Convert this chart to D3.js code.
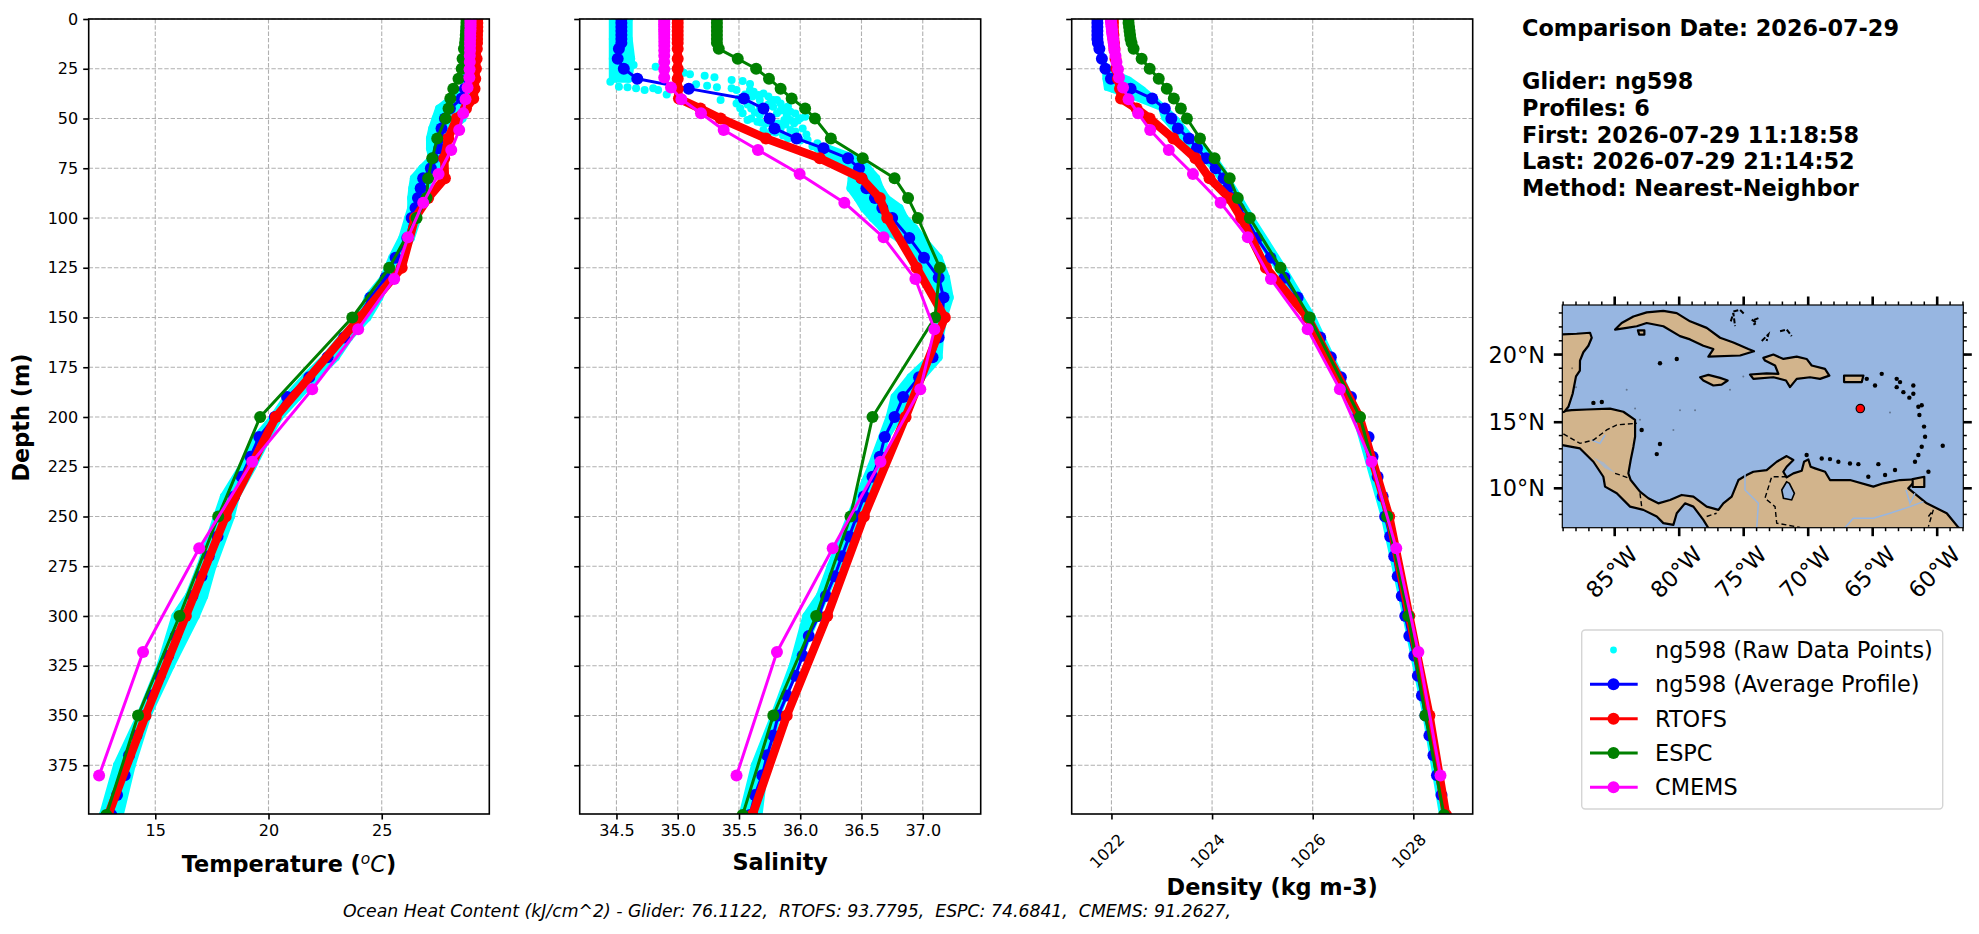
<!DOCTYPE html>
<html>
<head>
<meta charset="utf-8">
<title>Glider comparison</title>
<script src="https://cdn.jsdelivr.net/npm/d3@7"></script>
<style>
    html, body { margin: 0; padding: 0; background: #fff; }
    svg { display: block; font-family: "DejaVu Sans", sans-serif; }
</style>
</head>
<body>
<div id="chart"></div>
<script>
// depth levels
const modelDepth = [0,2,4,6,8,10,12,15,20,25,30,35,40,45,50,60,70,80,90,100,125,150,200,250,300,350,400];
const gliderDepth = [0,2,4,6,8,10,12,15,20,25,30,35,40,45,50,55,60,65,70,75,80,85,90,95,100,110,120,130,140,150,160,170,180,190,200,210,220,230,240,250,260,270,280,290,300,310,320,330,340,350,360,370,380,390,400];
const cmemsDepth = [0.5,1.5,2.6,3.8,5.1,6.4,7.9,9.6,11.4,13.5,15.8,18.5,21.6,25.2,29.4,34.4,40.3,47.4,55.8,65.8,77.9,92.3,109.7,130.7,155.9,186.1,222.5,266,318.1,380.2];

// temperature
const gliderTemp = [28.9,28.9,28.9,28.9,28.9,28.9,28.89,28.88,28.87,28.85,28.82,28.67,28.53,28.01,27.79,27.64,27.54,27.54,27.27,27.17,26.83,26.72,26.6,26.49,26.32,26.13,25.61,25.17,24.51,23.96,23.34,22.61,21.8,20.82,20.28,19.59,19.2,18.81,18.48,18.07,17.75,17.36,17.04,16.64,16.3,15.9,15.57,15.2,14.83,14.54,14.17,13.84,13.65,13.31,13.06];
const rtofsTemp = [29.22,29.22,29.22,29.22,29.21,29.21,29.21,29.2,29.19,29.16,29.13,29.1,29.04,28.72,28.31,27.94,27.76,27.79,27.05,26.47,25.88,24.04,20.32,18.11,16.35,14.57,12.92];
const espcTemp = [28.74,28.74,28.73,28.72,28.71,28.7,28.68,28.63,28.57,28.53,28.39,28.16,28.03,27.95,27.82,27.45,27.23,27.05,26.98,26.54,25.33,23.7,19.63,17.78,16.07,14.24,12.84];
const cmemsTemp = [28.92,28.92,28.92,28.92,28.92,28.91,28.91,28.91,28.9,28.9,28.9,28.89,28.89,28.88,28.87,28.79,28.7,28.6,28.42,28.07,27.51,26.83,26.16,25.55,23.96,21.93,19.28,16.94,14.46,12.52];

// salinity
const gliderSal = [34.54,34.54,34.54,34.54,34.54,34.54,34.54,34.52,34.51,34.56,34.67,35.09,35.54,35.7,35.75,35.79,35.97,36.19,36.39,36.48,36.5,36.54,36.61,36.67,36.75,36.89,37.01,37.13,37.17,37.16,37.13,37.08,36.97,36.84,36.77,36.69,36.65,36.59,36.52,36.46,36.4,36.34,36.28,36.21,36.15,36.07,36.02,35.96,35.89,35.82,35.78,35.73,35.69,35.63,35.59];
const rtofsSal = [35,35,35,35,35,35,35,35,35,35,35,35,35.01,35.185,35.35,35.72,36.16,36.5,36.65,36.71,36.95,37.18,36.86,36.52,36.22,35.89,35.61];
const espcSal = [35.32,35.32,35.32,35.32,35.32,35.32,35.32,35.335,35.49,35.64,35.745,35.84,35.93,36.04,36.12,36.25,36.51,36.77,36.88,36.96,37.14,37.1,36.59,36.41,36.13,35.78,35.53];
const cmemsSal = [34.89,34.89,34.89,34.89,34.89,34.89,34.89,34.89,34.89,34.89,34.89,34.89,34.89,34.89,34.89,34.945,35.03,35.19,35.375,35.655,35.995,36.36,36.68,36.94,37.095,36.98,36.655,36.265,35.81,35.48];

// density
const gliderDens = [1021.72,1021.72,1021.72,1021.72,1021.72,1021.72,1021.73,1021.76,1021.81,1021.88,1021.99,1022.38,1022.81,1023.06,1023.19,1023.32,1023.54,1023.7,1023.88,1024.07,1024.23,1024.31,1024.42,1024.53,1024.68,1024.89,1025.16,1025.44,1025.7,1025.9,1026.15,1026.36,1026.56,1026.76,1026.89,1027.11,1027.19,1027.29,1027.39,1027.44,1027.54,1027.62,1027.69,1027.77,1027.84,1027.92,1028.02,1028.09,1028.17,1028.24,1028.32,1028.4,1028.47,1028.56,1028.62];
const rtofsDens = [1022.03,1022.03,1022.03,1022.03,1022.04,1022.04,1022.05,1022.06,1022.08,1022.1,1022.13,1022.17,1022.19,1022.5,1022.76,1023.23,1023.67,1023.95,1024.34,1024.58,1025.07,1025.9,1026.93,1027.52,1027.92,1028.32,1028.65];
const espcDens = [1022.34,1022.34,1022.35,1022.36,1022.37,1022.38,1022.4,1022.44,1022.6,1022.76,1022.94,1023.1,1023.24,1023.38,1023.5,1023.76,1024.05,1024.35,1024.51,1024.75,1025.36,1025.94,1026.94,1027.48,1027.9,1028.24,1028.61];
const cmemsDens = [1021.99,1021.99,1022,1022,1022.01,1022.01,1022.02,1022.03,1022.04,1022.05,1022.06,1022.08,1022.1,1022.13,1022.15,1022.23,1022.34,1022.53,1022.77,1023.14,1023.62,1024.17,1024.71,1025.17,1025.9,1026.54,1027.17,1027.66,1028.1,1028.54];

// raw glider samples: left and right edge of the cloud at each depth
const rawTempDepth = [0,30,35,45,50,55,60,65,70,75,80,85,90,95,100,110,120,130,140,150,160,170,180,190,200,210,225,240,250,275,290,300,325,350,375,400];
const rawTempLo = [28.75,28.75,28.67,27.53,27.38,27.23,27.13,27.13,27.23,26.79,26.42,26.35,26.3,26.3,26.17,25.91,25.46,25.1,24.39,24.06,23.25,22.52,21.63,20.82,20.24,19.5,18.84,18.03,17.73,17,16.48,15.89,15.23,14.34,13.31,12.69];
const rawTempHi = [28.97,28.97,28.9,28.53,28.57,28.06,27.84,27.76,27.61,27.47,27.1,26.95,26.8,26.66,26.58,26.29,25.77,25.26,24.89,24.37,23.56,22.97,22.09,21.28,20.47,19.96,19.29,18.56,18.34,17.53,17.16,16.79,15.68,14.65,13.96,13.43];

const rawSalDepth = [0,10,20,30,null,65,70,75,80,85,90,95,100,105,110,120,130,140,150,160,170,180,190,200,210,225,250,275,290,300,325,350,375,400];
const rawSalLo = [34.47,34.47,34.47,34.47,null,36.14,36.3,36.43,36.42,36.41,36.47,36.52,36.59,36.67,36.8,36.96,37.07,37.12,37.15,37.11,37.07,36.9,36.77,36.73,36.67,36.58,36.41,36.25,36.16,36.05,35.94,35.79,35.63,35.53];
const rawSalHi = [34.6,34.6,34.62,34.6,null,36.22,36.44,36.55,36.62,36.65,36.7,36.81,36.85,36.93,36.99,37.13,37.19,37.22,37.17,37.14,37.13,36.99,36.87,36.8,36.7,36.62,36.46,36.3,36.2,36.13,35.96,35.81,35.71,35.66];
// loose samples in the halocline
const scatterSalDepth = [31.5,34,34.3,34.8,35.7,34.8,35.7,37.9,23.1,24,27,27.8,28.5,29.3,32.8,33.5,34.3,30.7,31.2,32.7,34.8,35.7,40.7,35.7,39,38.2,39,40.7,42.4,46.6,48.2,42.4,47.4,50.7,51.6,55.8,59.1,47.4,50.7,52.4,49.9,49.1,55.8,55,60.8,62.5,44.9,44.1,44.1,40.7,40.7,44.9,53.3,48.2,50.7,56.6,36.5,37.5,38,40,43,45,47,50,52,52.5,50,46,43,46,44,47.5,51,53,52.5,57,58.5,56.5,55,60,61,64,58,42];
const scatterSal = [34.45,34.52,34.59,34.66,34.73,34.8,34.84,34.91,34.64,34.82,35.05,35.1,35.22,35.3,35.15,35.24,35.32,35.44,35.53,35.59,35.44,35.48,35.35,35.59,35.61,35.66,35.74,35.78,35.84,35.92,35.89,35.48,35.53,35.57,35.65,35.7,35.73,35.81,35.87,35.95,36,36.04,35.92,35.84,36.06,36.14,35.51,35.67,35.78,35.67,35.81,35.87,35.78,35.67,35.92,35.76,35.62,35.7,35.55,35.5,35.57,35.6,35.63,35.6,35.68,35.72,35.76,35.7,35.74,35.84,35.9,35.96,35.98,35.88,35.82,35.8,35.86,35.96,36.02,35.9,36,36.1,36.05,35.76];

const rawDensDepth = [0,15,25,30,35,40,45,50,60,70,75,100,125,150,200,250,300,350,400];
const rawDensLo = [1021.72,1021.76,1021.85,1021.86,1021.89,1022.47,1022.97,1023.03,1023.38,1023.81,1024.01,1024.64,1025.27,1025.87,1026.83,1027.39,1027.82,1028.22,1028.55];
const rawDensHi = [1021.75,1021.8,1021.9,1022.36,1022.64,1022.87,1023.09,1023.3,1023.62,1024.08,1024.21,1024.81,1025.44,1026.03,1026.96,1027.49,1027.95,1028.32,1028.65];

// axes
const depthTicks = [0,25,50,75,100,125,150,175,200,225,250,275,300,325,350,375];
const tempTicks = [15,20,25];
const salTicks = [34.5,35,35.5,36,36.5,37];
const densTicks = [1022,1024,1026,1028];

// text
const infoLines = ["Comparison Date: 2026-07-29","","Glider: ng598","Profiles: 6","First: 2026-07-29 11:18:58","Last: 2026-07-29 21:14:52","Method: Nearest-Neighbor"];
const legendLabels = ["ng598 (Raw Data Points)","ng598 (Average Profile)","RTOFS","ESPC","CMEMS"];
const ohcText = "Ocean Heat Content (kJ/cm^2) - Glider: 76.1122,  RTOFS: 93.7795,  ESPC: 74.6841,  CMEMS: 91.2627,";

// map (lon, lat)
const lonTicks = [-85,-80,-75,-70,-65,-60];
const latTicks = [10,15,20];
const gliderPos = [-65.96,16.02];
const mainland = [[-90,15.5],[-89.06,15.83],[-88.33,15.9],[-87.17,15.95],[-85.36,16.02],[-84.33,15.78],[-83.42,15.18],[-83.42,13.91],[-83.55,13.16],[-83.76,12.15],[-83.94,11.14],[-83.76,10.63],[-83.04,9.75],[-82.39,9.24],[-81.62,8.85],[-80.71,9.11],[-79.81,9.49],[-78.9,9.36],[-77.87,8.6],[-76.96,8.35],[-76.58,8.85],[-75.93,9.36],[-75.41,10.63],[-74.77,11.01],[-74.25,11.26],[-73.22,11.39],[-72.44,12.02],[-71.67,12.45],[-71.15,12.15],[-71.67,11.64],[-71.93,11.26],[-71.67,10.83],[-71.15,11.14],[-70.5,11.34],[-70.32,12.02],[-69.99,12.2],[-69.81,11.64],[-69.47,11.52],[-68.69,11.26],[-68.31,10.63],[-66.76,10.63],[-64.95,10.13],[-64.17,10.38],[-62.88,10.63],[-61.59,10.69],[-62.24,10],[-60.81,8.85],[-59.26,8.09],[-58.36,7],[-57.8,6.5],[-57.8,6],[-78,6],[-77.74,6.95],[-78.13,7.58],[-78.9,8.6],[-79.55,8.85],[-80.19,8.09],[-80.45,7.2],[-81.23,7.33],[-81.74,7.84],[-82.78,8.35],[-83.81,8.6],[-84.84,9.62],[-85.75,10.13],[-85.88,10.88],[-86.65,12.02],[-87.69,13.03],[-89.06,13.28],[-90,13.2]];
const yucatan = [[-90,21.4],[-89.06,21.46],[-87.95,21.51],[-86.91,21.58],[-86.78,21.22],[-87.04,20.64],[-87.43,20.17],[-87.69,19.56],[-87.7,18.83],[-88,18.4],[-88.26,17.12],[-88.59,16.15],[-88.9,15.78],[-90,15.5]];
const cuba = [[-84.97,21.81],[-84.46,22.28],[-83.55,22.75],[-82.52,23.04],[-81.23,23.15],[-80.19,22.99],[-79.16,22.4],[-77.87,21.93],[-76.83,21.22],[-75.8,20.87],[-74.64,20.4],[-74.2,20.24],[-75.28,19.93],[-77.74,19.85],[-77.35,20.4],[-78.13,20.64],[-79.16,21.1],[-79.94,21.34],[-81.23,22.05],[-82.52,22.28],[-83.29,22.05],[-84.07,21.93]];
const juventud = [[-83.2,21.75],[-82.7,21.75],[-82.7,21.45],[-83.1,21.45]];
const jamaica = [[-78.38,18.34],[-77.74,18.51],[-76.83,18.29],[-76.24,18.1],[-76.71,17.8],[-77.35,17.73],[-78.13,18.1]];
const hispaniola = [[-73.48,19.76],[-72.7,20],[-71.92,19.68],[-70.89,19.85],[-70.12,19.68],[-69.73,19.2],[-68.7,18.95],[-68.36,18.46],[-69.08,18.22],[-69.86,18.34],[-70.89,18.22],[-71.41,17.61],[-71.72,18.1],[-72.7,18.34],[-74.25,18.22],[-74.51,18.54],[-73.22,18.63],[-72.31,18.59],[-72.57,19.2],[-73.35,19.56]];
const puertoRico = [[-67.22,18.46],[-65.72,18.46],[-65.85,17.98],[-67.22,17.98]];
const trinidad = [[-61.9,10.7],[-61,10.88],[-61,10.1],[-61.9,10.1]];
const landShapes = [mainland,yucatan,cuba,juventud,jamaica,hispaniola,puertoRico,trinidad];
const lakeMaracaibo = [[-71.67,10.5],[-72.05,9.87],[-71.92,9.24],[-71.28,9.11],[-71.07,9.62],[-71.46,10.38]];
const lakeNicaragua = [[-86.65,12.37],[-85.88,11.99],[-84.97,11.19],[-85.75,11.52]];
const bahamas = [[[-76,22.4],[-75.8,22.99],[-75.67,22.05]],[[-75.8,23.1],[-75.28,23.22],[-74.9,22.87]],[[-74.38,22.52],[-73.99,22.28],[-74.25,22.16]],[[-73.86,22.63],[-74.2,22.5]],[[-72.18,21.69],[-71.67,21.81],[-71.28,21.34]],[[-73.6,20.99],[-73.09,21.46],[-73.22,20.99]]];
const borders = [[[-88.98,14.12],[-87.69,13.41],[-86.65,13.66],[-85.62,14.42],[-84.84,14.8],[-83.29,14.92]],[[-84.97,11.14],[-83.81,10.75]],[[-83.04,9.62],[-82.91,8.6]],[[-71.67,10.88],[-72.83,10.88],[-73.35,9.24],[-72.57,8.6],[-72.44,7.33],[-70.63,7]],[[-60.68,7.84],[-60.3,8.35],[-60.68,7.06]],[[-77.87,7.84],[-77.1,8.09]]];
const rivers = [[[-74.9,11.14],[-74.9,9.87],[-73.86,8.85],[-73.99,7]],[[-67.14,7],[-66.5,7.71],[-64.95,7.71],[-63.66,8.09],[-62.11,8.6],[-61.07,8.98]],[[-62.42,9.87],[-62.11,8.85],[-61.72,9.62]],[[-86.78,13.66],[-86.14,13.41],[-85.75,14.04]]];
const islandLon = [-81.49,-80.19,-65.46,-64.3,-64.82,-63.14,-62.88,-63.14,-62.62,-62.16,-61.85,-61.85,-61.46,-61.2,-61.38,-61.02,-60.94,-61.2,-61.46,-61.72,-59.57,-70.12,-68.95,-68.31,-67.66,-66.76,-66.11,-64.56,-65.34,-64.04,-63.27,-60.68,-81.49,-81.74,-86.65,-86,-82.91];
const islandLat = [19.37,19.68,18.22,18.59,17.73,18.22,17.98,17.61,17.24,16.83,17.73,17.12,16.15,16.27,15.54,14.67,13.91,13.16,12.53,12.02,13.23,12.53,12.27,12.22,12.02,11.89,11.84,11.84,10.88,11.01,11.39,11.26,13.36,12.6,16.44,16.51,14.42];
const shoalLon = [-84.07,-83.42,-83.04,-79.94,-78.77,-80.45,-76.06,-75.03,-63.66,-88.0,-88.3];
const shoalLat = [17.41,16.02,15.18,15.9,15.9,14.42,17.41,18.39,15.73,17.6,19];

const colors = {glider: "#0000ff", rtofs: "#ff0000", espc: "#008000", cmems: "#ff00ff", raw: "#00ffff"};
const width = 1979, height = 934;

const svg = d3.select("#chart").append("svg")
    .attr("width", width)
    .attr("height", height)
    .attr("viewBox", `0 0 ${width} ${height}`);

const yTop = 19, yBottom = 814;
const y = d3.scaleLinear().domain([0, 399.5]).range([yTop, yBottom]);

function drawProfile(g, x, depth, values, color, lineWidth){
    const line = d3.line()
        .x(d => x(d[1]))
        .y(d => y(d[0]));
    const pts = depth.map((d, i) => [d, values[i]]);
    g.append("path")
        .datum(pts)
        .attr("d", line)
        .attr("fill", "none")
        .attr("stroke", color)
        .attr("stroke-width", lineWidth)
        .attr("stroke-linejoin", "round");
    g.selectAll(null)
        .data(pts)
        .enter().append("circle")
        .attr("cx", d => x(d[1]))
        .attr("cy", d => y(d[0]))
        .attr("r", 6)
        .attr("fill", color);
}

function drawPanel(cfg){
    const x = d3.scaleLinear().domain(cfg.domain).range([cfg.left, cfg.right]);
    const g = svg.append("g");

    // grid
    g.append("g")
        .selectAll("line").data(cfg.ticks).enter().append("line")
        .attr("x1", d => x(d)).attr("x2", d => x(d))
        .attr("y1", yTop).attr("y2", yBottom)
        .attr("stroke", "#b0b0b0").attr("stroke-width", 1.1).attr("stroke-dasharray", "4.4,1.9");
    g.append("g")
        .selectAll("line").data(depthTicks).enter().append("line")
        .attr("x1", cfg.left).attr("x2", cfg.right)
        .attr("y1", d => y(d)).attr("y2", d => y(d))
        .attr("stroke", "#b0b0b0").attr("stroke-width", 1.1).attr("stroke-dasharray", "4.4,1.9");

    // data, clipped to the axes box
    svg.append("clipPath").attr("id", cfg.id)
        .append("rect")
        .attr("x", cfg.left).attr("y", yTop)
        .attr("width", cfg.right - cfg.left).attr("height", yBottom - yTop);
    const plot = g.append("g").attr("clip-path", `url(#${cfg.id})`);

    const band = cfg.rawDepth.map((d, i) => ({d: d, lo: cfg.rawLo[i], hi: cfg.rawHi[i]}));
    const area = d3.area()
        .defined(d => d.d !== null)
        .y(d => y(d.d))
        .x0(d => x(d.lo))
        .x1(d => x(d.hi));
    plot.append("path")
        .attr("d", area(band))
        .attr("fill", colors.raw)
        .attr("stroke", colors.raw)
        .attr("stroke-width", cfg.rawWidth)
        .attr("stroke-linejoin", "round");
    const edgePts = band.filter(d => d.d !== null);
    plot.selectAll(null)
        .data(edgePts.flatMap(d => [[d.d, d.lo], [d.d, d.hi]]))
        .enter().append("circle")
        .attr("cx", d => x(d[1])).attr("cy", d => y(d[0]))
        .attr("r", cfg.rawWidth / 2).attr("fill", colors.raw);
    if(cfg.scatterDepth){
        plot.selectAll(null)
            .data(cfg.scatterDepth.map((d, i) => [d, cfg.scatter[i]]))
            .enter().append("circle")
            .attr("cx", d => x(d[1])).attr("cy", d => y(d[0]))
            .attr("r", 4).attr("fill", colors.raw);
    }

    drawProfile(plot, x, gliderDepth, cfg.glider, colors.glider, 3);
    drawProfile(plot, x, modelDepth, cfg.rtofs, colors.rtofs, 8.5);
    drawProfile(plot, x, modelDepth, cfg.espc, colors.espc, 3);
    drawProfile(plot, x, cmemsDepth, cfg.cmems, colors.cmems, 3);

    // spines
    g.append("rect")
        .attr("x", cfg.left).attr("y", yTop)
        .attr("width", cfg.right - cfg.left).attr("height", yBottom - yTop)
        .attr("fill", "none").attr("stroke", "#000").attr("stroke-width", 1.6);

    // axes
    const axL = g.append("g")
        .attr("transform", `translate(${cfg.left},0)`)
        .call(d3.axisLeft(y).tickValues(depthTicks).tickSize(5.5).tickPadding(5)
            .tickFormat(cfg.showDepth ? d3.format("d") : ""));
    const axB = g.append("g")
        .attr("transform", `translate(0,${yBottom})`)
        .call(d3.axisBottom(x).tickValues(cfg.ticks).tickSize(5.5).tickPadding(5).tickFormat(cfg.tickFormat));
    [axL, axB].forEach(ax => {
        ax.select(".domain").remove();
        ax.selectAll("line").attr("stroke", "#000").attr("stroke-width", 1.6);
        ax.selectAll("text").attr("font-size", 16).attr("font-family", "DejaVu Sans").attr("fill", "#000");
    });
    if(cfg.rotate){
        axB.selectAll("text")
            .attr("text-anchor", "middle")
            .attr("dy", 0)
            .attr("y", 0)
            .attr("transform", d => `translate(-1,41) rotate(-45)`);
    }

    g.append("text")
        .attr("x", (cfg.left + cfg.right) / 2)
        .attr("y", cfg.labelY)
        .attr("text-anchor", "middle")
        .attr("font-size", 22.4)
        .attr("font-weight", "bold")
        .text(cfg.label[0])
        .call(t => { if(cfg.label[1]){
            t.append("tspan").attr("font-style", "italic").attr("font-weight", "normal").attr("font-size", 15.5).attr("dy", -8).text(cfg.label[1]);
            t.append("tspan").attr("font-style", "italic").attr("font-weight", "normal").attr("dy", 8).text(cfg.label[2]);
            t.append("tspan").text(cfg.label[3]);
        }});
}

drawPanel({
    id: "clipTemp", left: 88.7, right: 489.3, domain: [12.06, 29.75], ticks: tempTicks,
    tickFormat: d3.format("d"), showDepth: true, labelY: 872, rawWidth: 8,
    label: ["Temperature (", "o", "C", ")"],
    rawDepth: rawTempDepth, rawLo: rawTempLo, rawHi: rawTempHi,
    glider: gliderTemp, rtofs: rtofsTemp, espc: espcTemp, cmems: cmemsTemp
});
drawPanel({
    id: "clipSal", left: 579.7, right: 980.7, domain: [34.2, 37.473], ticks: salTicks,
    tickFormat: d3.format(".1f"), labelY: 870, rawWidth: 8,
    label: ["Salinity"],
    rawDepth: rawSalDepth, rawLo: rawSalLo, rawHi: rawSalHi,
    scatterDepth: scatterSalDepth, scatter: scatterSal,
    glider: gliderSal, rtofs: rtofsSal, espc: espcSal, cmems: cmemsSal
});
drawPanel({
    id: "clipDens", left: 1071.7, right: 1472.7, domain: [1021.21, 1029.18], ticks: densTicks,
    tickFormat: d3.format("d"), rotate: true, labelY: 895, rawWidth: 4,
    label: ["Density (kg m-3)"],
    rawDepth: rawDensDepth, rawLo: rawDensLo, rawHi: rawDensHi,
    glider: gliderDens, rtofs: rtofsDens, espc: espcDens, cmems: cmemsDens
});

svg.append("text")
    .attr("transform", `translate(29,${(yTop + yBottom) / 2 + 1}) rotate(-90)`)
    .attr("text-anchor", "middle")
    .attr("font-size", 22.4)
    .attr("font-weight", "bold")
    .text("Depth (m)");

svg.append("text")
    .attr("x", 343)
    .attr("y", 917)
    .attr("font-size", 17.3)
    .attr("font-style", "italic")
    .style("white-space", "pre")
    .text(ohcText);

// info block
svg.append("g").selectAll("text")
    .data(infoLines)
    .enter().append("text")
    .attr("x", 1522)
    .attr("y", (d, i) => 36 + i * 26.67)
    .attr("font-size", 22.4)
    .attr("font-weight", "bold")
    .text(d => d);

// map
const mapBox = {left: 1562.3, right: 1963.3, top: 305, bottom: 527.7};
const projection = d3.geoMercator().scale(739.1).translate([0, 0]);
const anchor = projection([-85, 10]);
projection.translate([1614.7 - anchor[0], 488.3 - anchor[1]]);
const lineTo = coords => "M" + coords.map(c => projection(c).join(",")).join("L");

svg.append("clipPath").attr("id", "clipMap")
    .append("rect")
    .attr("x", mapBox.left).attr("y", mapBox.top)
    .attr("width", mapBox.right - mapBox.left).attr("height", mapBox.bottom - mapBox.top);

const map = svg.append("g");
const mapPlot = map.append("g").attr("clip-path", "url(#clipMap)");
mapPlot.append("rect")
    .attr("x", mapBox.left).attr("y", mapBox.top)
    .attr("width", mapBox.right - mapBox.left).attr("height", mapBox.bottom - mapBox.top)
    .attr("fill", "#97b6e1");

mapPlot.selectAll("path.land")
    .data(landShapes)
    .enter().append("path")
    .attr("class", "land")
    .attr("d", d => lineTo(d) + "Z")
    .attr("fill", "#d2b48c")
    .attr("stroke", "#000")
    .attr("stroke-width", 2.2)
    .attr("stroke-linejoin", "round");
mapPlot.append("path")
    .attr("d", lineTo(lakeMaracaibo) + "Z")
    .attr("fill", "#97b6e1").attr("stroke", "#000").attr("stroke-width", 1.6);
mapPlot.append("path")
    .attr("d", lineTo(lakeNicaragua) + "Z")
    .attr("fill", "#97b6e1").attr("opacity", 0.7);
mapPlot.selectAll("path.river")
    .data(rivers)
    .enter().append("path")
    .attr("class", "river")
    .attr("d", lineTo)
    .attr("fill", "none").attr("stroke", "#97b6e1").attr("stroke-width", 1.5);
mapPlot.selectAll("path.border")
    .data(borders)
    .enter().append("path")
    .attr("class", "border")
    .attr("d", lineTo)
    .attr("fill", "none").attr("stroke", "#000").attr("stroke-width", 1.4).attr("stroke-dasharray", "5,3");
mapPlot.selectAll("path.cay")
    .data(bahamas)
    .enter().append("path")
    .attr("class", "cay")
    .attr("d", lineTo)
    .attr("fill", "none").attr("stroke", "#000").attr("stroke-width", 2).attr("stroke-dasharray", "5,2");
mapPlot.selectAll("circle.island")
    .data(islandLon.map((d, i) => [d, islandLat[i]]))
    .enter().append("circle")
    .attr("class", "island")
    .attr("cx", d => projection(d)[0]).attr("cy", d => projection(d)[1])
    .attr("r", 2.2).attr("fill", "#000");
mapPlot.selectAll("circle.shoal")
    .data(shoalLon.map((d, i) => [d, shoalLat[i]]))
    .enter().append("circle")
    .attr("class", "shoal")
    .attr("cx", d => projection(d)[0]).attr("cy", d => projection(d)[1])
    .attr("r", 1).attr("fill", "#000").attr("opacity", 0.35);
mapPlot.append("circle")
    .attr("cx", projection(gliderPos)[0]).attr("cy", projection(gliderPos)[1])
    .attr("r", 4.2)
    .attr("fill", "#ff0000").attr("stroke", "#000").attr("stroke-width", 1.2);

map.append("rect")
    .attr("x", mapBox.left).attr("y", mapBox.top)
    .attr("width", mapBox.right - mapBox.left).attr("height", mapBox.bottom - mapBox.top)
    .attr("fill", "none").attr("stroke", "#000").attr("stroke-width", 1.2);

// map ticks, minor every degree and major at the labelled lines
const minorLon = d3.range(-89, -57);
const minorLat = d3.range(8, 24);
function mapTicks(list, len, w){
    list.lon.forEach(lon => {
        const px = projection([lon, 15])[0];
        [[mapBox.top, -len], [mapBox.bottom, len]].forEach(e => {
            map.append("line").attr("x1", px).attr("x2", px).attr("y1", e[0]).attr("y2", e[0] + e[1])
                .attr("stroke", "#000").attr("stroke-width", w);
        });
    });
    list.lat.forEach(lat => {
        const py = projection([-70, lat])[1];
        [[mapBox.left, -len], [mapBox.right, len]].forEach(e => {
            map.append("line").attr("y1", py).attr("y2", py).attr("x1", e[0]).attr("x2", e[0] + e[1])
                .attr("stroke", "#000").attr("stroke-width", w);
        });
    });
}
mapTicks({lon: minorLon, lat: minorLat}, 3.5, 1.5);
mapTicks({lon: lonTicks, lat: latTicks}, 8.5, 2.6);

map.selectAll("text.lat")
    .data(latTicks)
    .enter().append("text")
    .attr("class", "lat")
    .attr("x", 1545)
    .attr("y", d => projection([-70, d])[1] + 8)
    .attr("text-anchor", "end")
    .attr("font-size", 22.4)
    .text(d => d + "°N");
map.selectAll("text.lon")
    .data(lonTicks)
    .enter().append("text")
    .attr("class", "lon")
    .attr("transform", d => `translate(${projection([d, 15])[0] - 3},572) rotate(-45)`)
    .attr("text-anchor", "middle")
    .attr("dy", "0.36em")
    .attr("font-size", 22.4)
    .text(d => Math.abs(d) + "°W");

// legend
const legend = svg.append("g");
legend.append("rect")
    .attr("x", 1581.7).attr("y", 630)
    .attr("width", 361).attr("height", 179)
    .attr("rx", 3.5)
    .attr("fill", "#fff").attr("stroke", "#d5d5d5").attr("stroke-width", 1.4);
const legendColors = [colors.raw, colors.glider, colors.rtofs, colors.espc, colors.cmems];
const legendRow = d3.scaleLinear().domain([0, 4]).range([650, 787.3]);
legendLabels.forEach((label, i) => {
    const yy = legendRow(i);
    if(i > 0){
        legend.append("line")
            .attr("x1", 1590).attr("x2", 1637.7).attr("y1", yy).attr("y2", yy)
            .attr("stroke", legendColors[i]).attr("stroke-width", 3);
    }
    legend.append("circle")
        .attr("cx", 1613.5).attr("cy", yy)
        .attr("r", i > 0 ? 6 : 3.4)
        .attr("fill", legendColors[i]);
    legend.append("text")
        .attr("x", 1655).attr("y", yy + 8)
        .attr("font-size", 22.4)
        .text(label);
});
</script>
</body>
</html>
